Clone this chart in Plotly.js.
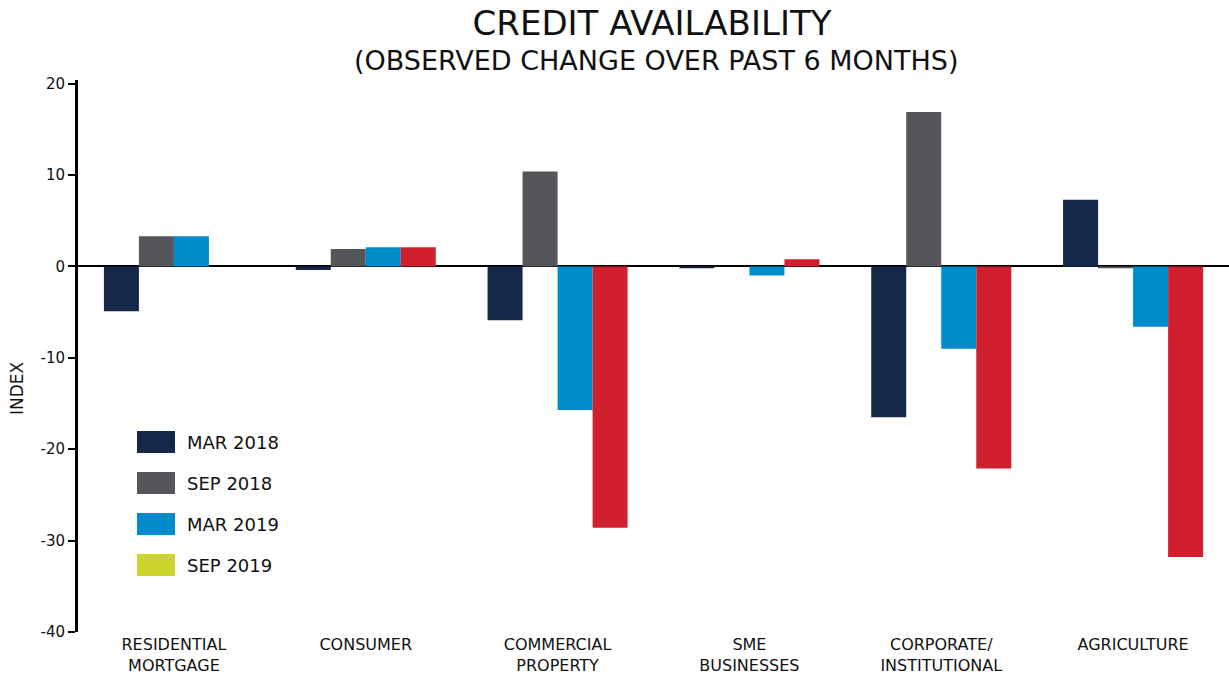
<!DOCTYPE html>
<html>
<head>
<meta charset="utf-8">
<script src="https://cdn.plot.ly/plotly-3.0.1.min.js"></script>
<style>html,body{margin:0;padding:0;background:#fff}#chart{width:1229px;height:675px}</style>
</head>
<body>
<div id="chart"></div>
<script>
const categories = ["RESIDENTIAL<br>MORTGAGE", "CONSUMER", "COMMERCIAL<br>PROPERTY", "SME<br>BUSINESSES", "CORPORATE/<br>INSTITUTIONAL", "AGRICULTURE"];
const seriesNames = ["MAR 2018", "SEP 2018", "MAR 2019", "SEP 2019"];
const mar2018 = [-4.9, -0.4, -5.9, -0.2, -16.5, 7.3];
const sep2018 = [3.3, 1.9, 10.4, 0.0, 16.9, -0.2];
const mar2019 = [3.3, 2.1, -15.7, -1.0, -9.0, -6.6];
const sep2019 = [null, 2.1, -28.6, 0.8, -22.1, -31.8];
const barColors = ["#16284a", "#55565a", "#008ccc", "#d0202e"];
const legendColors = ["#16284a", "#55565a", "#008ccc", "#cbd42b"];
const yTicks = [20, 10, 0, -10, -20, -30, -40];

const FONT = "'DejaVu Sans', sans-serif";
const series = [mar2018, sep2018, mar2019, sep2019];
const traces = series.map((vals, i) => ({
  type: "bar",
  name: seriesNames[i],
  x: categories,
  y: vals,
  marker: {color: barColors[i], line: {width: 0}},
  showlegend: false,
  hoverinfo: "x+y+name"
}));

const W = 1229, H = 675, mL = 78, mR = 0, mT = 80, mB = 43;
const pw = W - mL - mR, ph = H - mT - mB;
const px = x => (x - mL) / pw;
const py = y => (H - mB - y) / ph;

// custom legend (swatches + labels) in paper coords
const shapes = [];
const annotations = [];
const legX0 = 137, legW = 38, legH = 22, legTop = 431, legStep = 41;
seriesNames.forEach((n, i) => {
  const top = legTop + i * legStep;
  shapes.push({type: "rect", xref: "paper", yref: "paper",
    x0: px(legX0), x1: px(legX0 + legW), y0: py(top + legH), y1: py(top),
    fillcolor: legendColors[i], line: {width: 0}});
  annotations.push({xref: "paper", yref: "paper", x: px(185), y: py(top + legH / 2),
    xanchor: "left", yanchor: "middle", showarrow: false, text: n,
    font: {family: FONT, size: 18, color: "#111"}});
});
annotations.push({xref: "paper", yref: "paper", x: px(656), y: py(60), xanchor: "center", yanchor: "middle",
  showarrow: false, text: "(OBSERVED CHANGE OVER PAST 6 MONTHS)", font: {family: FONT, size: 27, color: "#111"}});
annotations.push({xref: "paper", yref: "paper", x: px(17), y: py(388), xanchor: "center", yanchor: "middle",
  showarrow: false, textangle: -90, text: "INDEX", font: {family: FONT, size: 17, color: "#111"}});

const layout = {
  width: W, height: H,
  margin: {l: mL, r: mR, t: mT, b: mB, pad: 0},
  paper_bgcolor: "#fff", plot_bgcolor: "#fff",
  font: {family: FONT, color: "#111"},
  title: {text: "CREDIT AVAILABILITY", x: 652 / W, xref: "container", xanchor: "center",
    y: 1 - 23 / H, yref: "container", yanchor: "middle",
    font: {family: FONT, size: 34, color: "#111"}},
  barmode: "group",
  bargap: 0.27,
  bargroupgap: 0,
  showlegend: false,
  xaxis: {
    type: "category", range: [-0.5, 5.5], showline: false, ticks: "", showgrid: false,
    zeroline: false, tickfont: {family: FONT, size: 16, color: "#111"}, automargin: false,
    ticklabelstandoff: 1
  },
  yaxis: {
    range: [-40, 20.4], tickvals: yTicks, ticktext: yTicks.map(String),
    showline: true, linecolor: "#000", linewidth: 3, ticks: "outside", ticklen: 7, tickwidth: 2,
    tickcolor: "#000", showgrid: false, zeroline: true, zerolinecolor: "#000", zerolinewidth: 2,
    tickfont: {family: FONT, size: 15, color: "#111"}, automargin: false
  },
  shapes: shapes,
  annotations: annotations
};

Plotly.newPlot("chart", traces, layout, {displayModeBar: false, staticPlot: true});
</script>
</body>
</html>
